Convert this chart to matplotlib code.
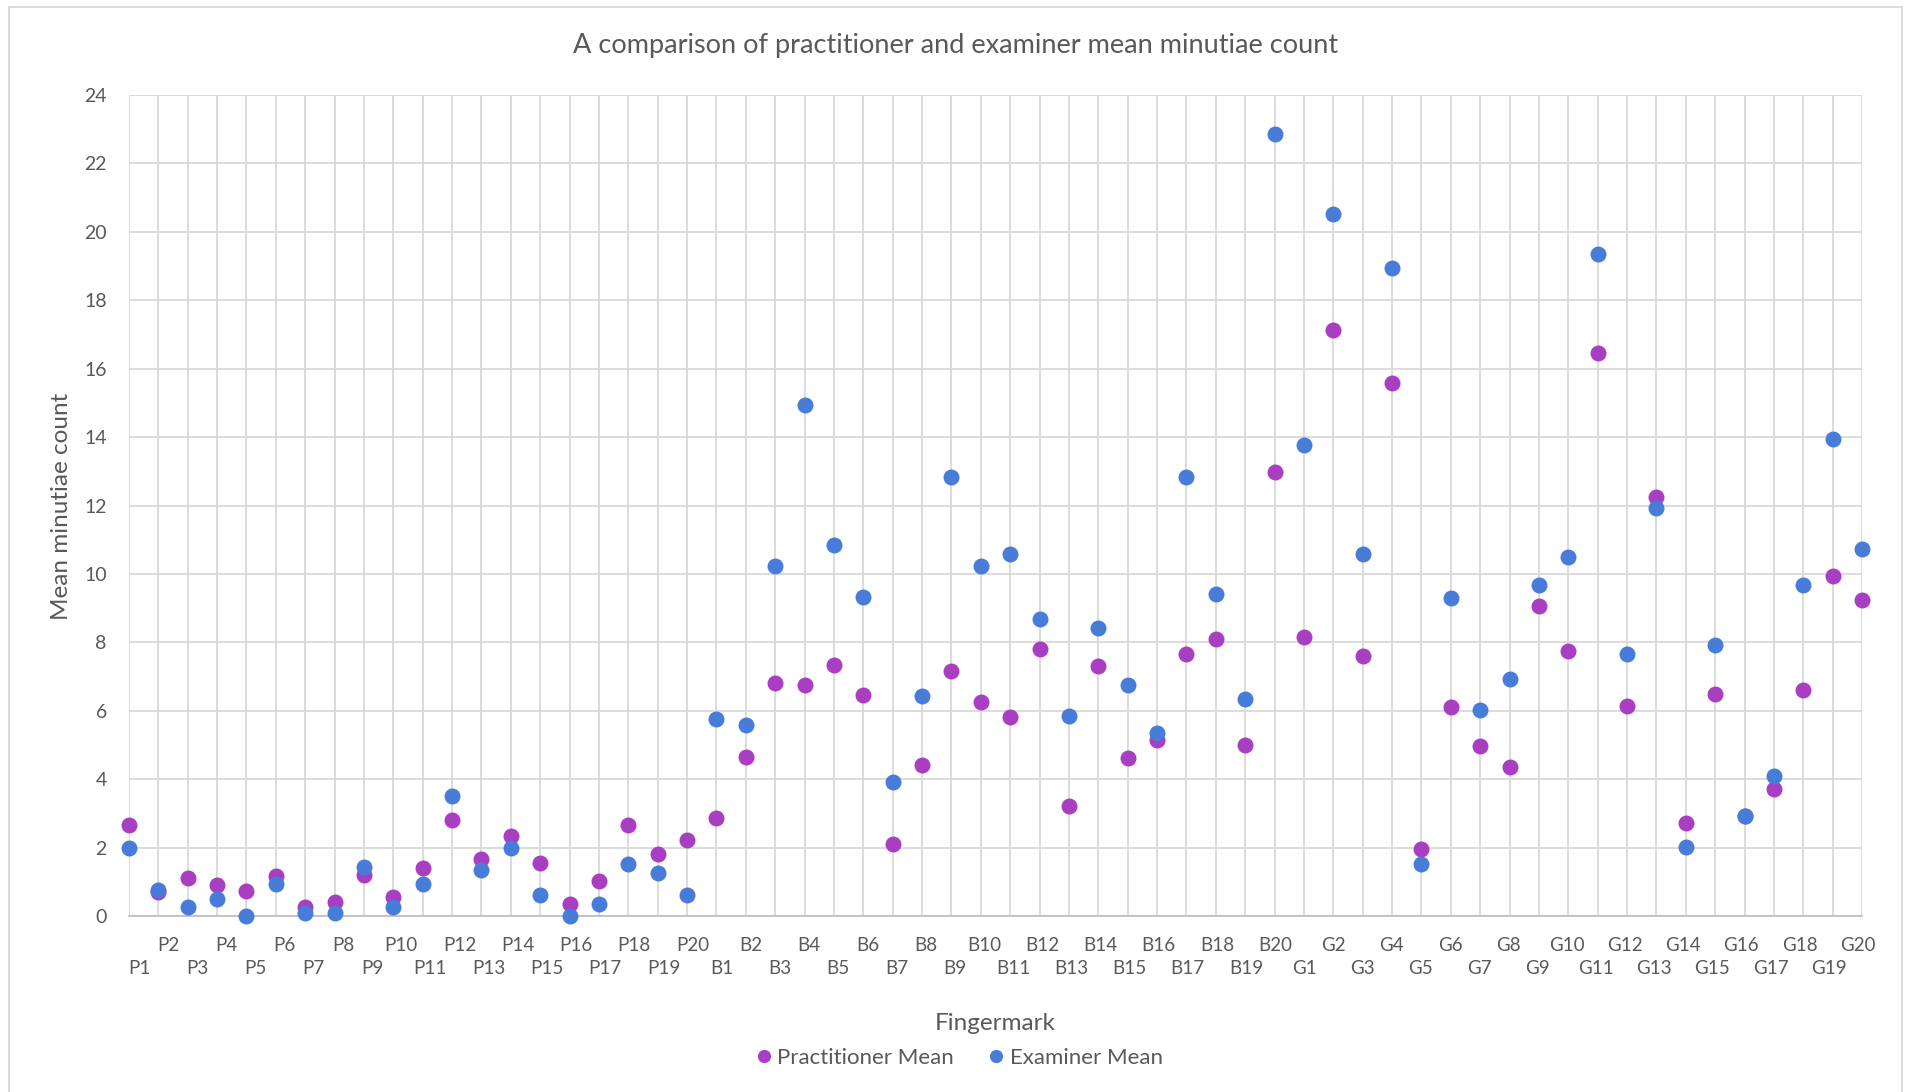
import numpy as np
import matplotlib
matplotlib.use("Agg")
import matplotlib.pyplot as plt
from matplotlib.lines import Line2D
from matplotlib.patches import Rectangle

plt.rcParams['font.family'] = ['Lato', 'DejaVu Sans']

# fingermark ids: P1-P20, B1-B20, G1-G20
fingermarks = ["P%d" % i for i in range(1, 21)] + ["B%d" % i for i in range(1, 21)] + ["G%d" % i for i in range(1, 21)]

practitioner_p = [2.67, 0.69, 1.11, 0.91, 0.72, 1.16, 0.27, 0.42, 1.21, 0.57,
                  1.41, 2.80, 1.66, 2.35, 1.55, 0.36, 1.02, 2.67, 1.80, 2.21]
examiner_p = [2.00, 0.76, 0.26, 0.51, 0.01, 0.93, 0.10, 0.10, 1.43, 0.26,
              0.93, 3.50, 1.34, 2.00, 0.60, 0.01, 0.35, 1.51, 1.25, 0.60]

practitioner_b = [2.87, 4.65, 6.80, 6.75, 7.35, 6.45, 2.10, 4.41, 7.15, 6.26,
                  5.81, 7.80, 3.21, 7.30, 4.61, 5.15, 7.67, 8.10, 5.00, 12.98]
examiner_b = [5.76, 5.58, 10.24, 14.93, 10.84, 9.32, 3.92, 6.43, 12.84, 10.24,
              10.59, 8.68, 5.84, 8.43, 6.76, 5.34, 12.84, 9.42, 6.33, 22.85]

practitioner_g = [8.15, 17.12, 7.60, 15.57, 1.97, 6.11, 4.96, 4.36, 9.05, 7.76,
                  16.47, 6.14, 12.25, 2.71, 6.50, 2.92, 3.70, 6.60, 9.94, 9.24]
examiner_g = [13.76, 20.51, 10.59, 18.94, 1.51, 9.30, 6.01, 6.93, 9.67, 10.49,
              19.34, 7.67, 11.92, 2.01, 7.92, 2.92, 4.08, 9.67, 13.93, 10.74]

practitioner = practitioner_p + practitioner_b + practitioner_g
examiner = examiner_p + examiner_b + examiner_g

purple = '#A93EC3'
blue = '#477CD8'
grid_col = '#D9D9D9'
text_col = '#595959'

W, H = 1905, 1092
fig = plt.figure(figsize=(W / 100, H / 100), dpi=100)
ax = fig.add_axes([129 / W, 1 - 916 / H, (1862 - 129) / W, (916 - 95) / H])

x = np.arange(len(fingermarks))

# grid
ax.vlines(x, 0, 24, color=grid_col, lw=1.3, zorder=0)
ax.set_yticks(np.arange(0, 25, 2))
ax.yaxis.grid(True, color=grid_col, lw=1.3, zorder=0)
ax.set_axisbelow(True)

ax.plot(x, practitioner, 'o', color=purple, ms=11.5, mew=0, clip_on=False, zorder=3)
ax.plot(x, examiner, 'o', color=blue, ms=11.5, mew=0, clip_on=False, zorder=4)

ax.set_xlim(0, len(fingermarks) - 1)
ax.set_ylim(0, 24)

for s in ['top', 'right', 'left']:
    ax.spines[s].set_visible(False)
ax.spines['bottom'].set_color('#BFBFBF')
ax.spines['bottom'].set_linewidth(1.3)

# staggered category labels (even on upper row, odd on lower row)
label_pos = np.linspace(0.34, 58.86, len(fingermarks))
ax.set_xticks(label_pos[1::2])
ax.set_xticklabels(fingermarks[1::2])
ax.set_xticks(label_pos[0::2], minor=True)
ax.set_xticklabels(fingermarks[0::2], minor=True)
ax.tick_params(axis='x', which='major', length=0, pad=15, labelsize=13.5, labelcolor=text_col)
ax.tick_params(axis='x', which='minor', length=0, pad=32, labelsize=13.5, labelcolor=text_col)
ax.tick_params(axis='y', length=0, pad=16, labelsize=14, labelcolor=text_col)

fig.text(956 / W, 1 - 53 / H, 'A comparison of practitioner and examiner mean minutiae count',
         ha='center', va='baseline', fontsize=19.5, color=text_col)
fig.text(995 / W, 1 - 1030 / H, 'Fingermark', ha='center', va='baseline', fontsize=17.5, color=text_col)
fig.text(61 / W, 1 - 506 / H, 'Mean minutiae count', ha='center', va='center', rotation=90,
         fontsize=17.5, color=text_col)

handles = [Line2D([], [], ls='none', marker='o', color=purple, ms=9.5, mew=0),
           Line2D([], [], ls='none', marker='o', color=blue, ms=9.5, mew=0)]
fig.legend(handles, ['Practitioner Mean', 'Examiner Mean'], loc='center',
           bbox_to_anchor=(960 / W, 1 - 1058 / H), ncol=2, frameon=False,
           fontsize=16, labelcolor=text_col, handlelength=0.6, handletextpad=0.3,
           columnspacing=1.6)

# chart border
fig.patches.append(Rectangle((9 / W, -0.01), (1902 - 9) / W, 0.01 + 1 - 7 / H,
                             transform=fig.transFigure, fill=False, edgecolor=grid_col, lw=1.3))

fig.savefig('out.png', dpi=100, facecolor='white')
